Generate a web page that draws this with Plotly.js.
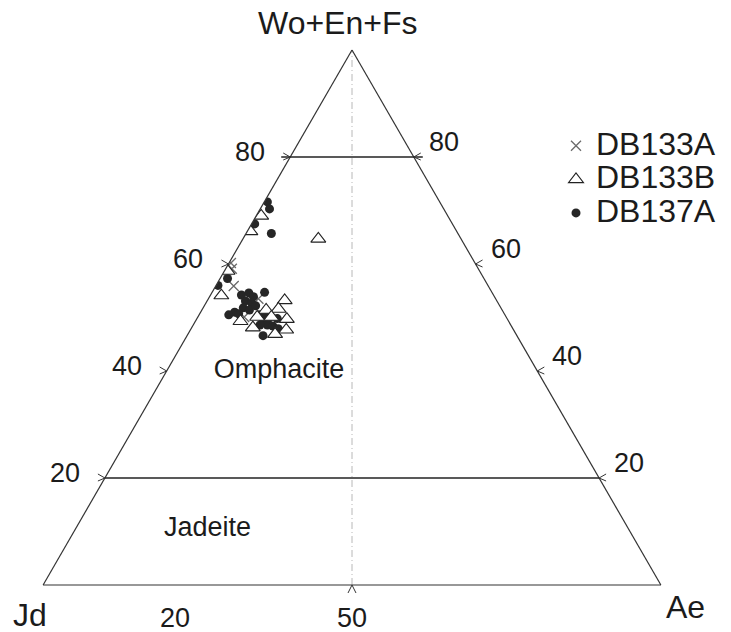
<!DOCTYPE html>
<html>
<head>
<meta charset="utf-8">
<script src="https://cdn.plot.ly/plotly-3.0.1.min.js"></script>
<style>
  html, body { margin: 0; padding: 0; background: #ffffff; }
  #chart { width: 731px; height: 632px; }
</style>
</head>
<body>
<div id="chart"></div>
<script>
// Clinopyroxene compositions, mol %: Quad (Wo+En+Fs), Jd (jadeite), Ae (aegirine)
const db133aQuad = [60.2, 59.1, 55.9, 53.5, 50.1];
const db133aJd   = [39.5, 39.9, 41.2, 38.4, 42.4];
const db133aAe   = [0.3, 1.0, 2.9, 8.1, 7.5];

const db133bQuad = [69.0, 66.1, 64.7, 58.7, 54.1, 53.2, 51.4, 51.6, 50.1, 50.1, 49.7, 49.3, 48.1, 47.7, 46.9];
const db133bJd   = [30.2, 33.4, 23.1, 40.8, 44.1, 34.3, 38.2, 36.1, 38.0, 40.3, 35.7, 43.4, 42.0, 36.8, 39.0];
const db133bAe   = [0.8, 0.5, 12.2, 0.5, 1.8, 12.5, 10.4, 12.3, 11.9, 9.6, 14.6, 7.3, 9.9, 15.5, 14.1];

const db137aQuad = [71.6, 70.3, 67.5, 65.7, 57.3, 56.0, 54.7, 54.2, 54.6, 53.9, 53.1, 52.7, 51.8, 51.4,
                    52.2, 51.0, 50.5, 50.7, 50.5, 51.0, 49.5, 49.9, 48.6, 48.4, 48.6, 46.6, 49.8, 47.9];
const db137aJd   = [27.9, 28.2, 32.0, 30.2, 41.5, 43.7, 36.8, 40.8, 39.4, 39.0, 40.7, 39.9, 41.7, 40.9,
                    39.5, 43.5, 44.7, 43.0, 39.8, 38.5, 39.6, 38.5, 39.4, 38.6, 40.6, 41.1, 37.2, 38.0];
const db137aAe   = [0.5, 1.5, 0.5, 4.1, 1.2, 0.3, 8.5, 5.0, 6.0, 7.1, 6.2, 7.4, 6.5, 7.7,
                    8.3, 5.5, 4.8, 6.3, 9.7, 10.5, 10.9, 11.6, 12.0, 13.0, 10.8, 12.3, 13.0, 14.1];

const seriesNames = ['DB133A', 'DB133B', 'DB137A'];

// Axis annotation values
const quadTicks = [20, 40, 60, 80];          // Wo+En+Fs ticks on both side edges
const baseTickLabels = ['20', '50'];         // labels under the Jd-Ae edge
const baseTickAe = [20, 50];
const baseTickMarks = [50];                  // Ae value of the tick mark on the base
const fieldBoundaries = [80, 20];            // Quad = 80 and Quad = 20 lines
const splitAe = 50;                          // Jd = Ae dividing line

// Field names and where they sit (Quad, Jd, Ae)
const fieldNames = ['Omphacite', 'Jadeite'];
const fieldQuad  = [40.0, 10.4];
const fieldJd    = [41.8, 68.2];
const fieldAe    = [18.2, 21.4];

const vertexNames = ['Wo+En+Fs', 'Jd', 'Ae'];

// ---------------------------------------------------------------
const FONT = 'Liberation Sans, Arial, Helvetica, sans-serif';
const INK = '#1b1b1b';
const FIG_W = 731, FIG_H = 632;

// Plot area; the ternary fills its height and is centred across it
const M = { l: 43, r: 70, t: 50, b: 47 };
const PW = FIG_W - M.l - M.r;
const PH = FIG_H - M.t - M.b;
const H = PH;                                  // triangle height, px
const W = H * 2 / Math.sqrt(3);                // triangle side, px
const X0 = M.l + (PW - W) / 2;                 // Jd corner, px
const YB = M.t + PH;                           // base line, px

// ternary composition -> page pixels
function toPx(a, b, c) {
  const s = a + b + c;
  return [X0 + W * (c + a / 2) / s, YB - H * a / s];
}
// page pixels -> paper fractions
function toPaper(p) {
  return [(p[0] - M.l) / PW, (YB - p[1]) / PH];
}
function at(a, b, c, dx, dy) {
  const p = toPx(a, b, c);
  return toPaper([p[0] + (dx || 0), p[1] + (dy || 0)]);
}
function pathOf(pts) {
  return pts.map((p, i) => (i ? 'L' : 'M') + p[0].toFixed(5) + ',' + p[1].toFixed(5)).join(' ');
}

const shapes = [];

// Jd = Ae dividing line, apex to base midpoint
shapes.push({
  type: 'path', xref: 'paper', yref: 'paper', layer: 'below',
  path: pathOf([at(0, 100 - splitAe, splitAe), at(100, 0, 0)]),
  line: { color: '#b8b8b8', width: 1, dash: '7px,3px,1px,3px' }
});

// Field boundaries (the upper one runs slightly past both edges)
fieldBoundaries.forEach(q => {
  const ext = q >= 50 ? 9 : 0;
  shapes.push({
    type: 'path', xref: 'paper', yref: 'paper',
    path: pathOf([at(q, 100 - q, 0, -ext, 0), at(q, 0, 100 - q, ext, 0)]),
    line: { color: '#222', width: 1.3 }
  });
});

// Chevron tick marks
const chevrons = [];
quadTicks.forEach(q => {
  chevrons.push([at(q, 100 - q, 0, -7, -4), at(q, 100 - q, 0), at(q, 100 - q, 0, -7, 3)]);
  chevrons.push([at(q, 0, 100 - q, 7, -4), at(q, 0, 100 - q), at(q, 0, 100 - q, 7, 3)]);
});
baseTickMarks.forEach(ae => {
  chevrons.push([at(0, 100 - ae, ae, -4, 8), at(0, 100 - ae, ae), at(0, 100 - ae, ae, 4, 8)]);
});
chevrons.forEach(pts => shapes.push({
  type: 'path', xref: 'paper', yref: 'paper', path: pathOf(pts),
  line: { color: '#333', width: 1 }
}));

// Labels
const annotations = [];
function label(pos, text, size) {
  annotations.push({
    xref: 'paper', yref: 'paper', x: pos[0], y: pos[1], text: text,
    showarrow: false, xanchor: 'center', yanchor: 'middle',
    font: { family: FONT, size: size, color: INK }
  });
}
quadTicks.forEach(q => label(at(q, 100 - q, 0, -40, -5), String(q), 27));
quadTicks.forEach(q => label(at(q, 0, 100 - q, 30, -15), String(q), 27));
baseTickAe.forEach((ae, i) => label(at(0, 100 - ae, ae, ae < 50 ? 8 : 0, 33), baseTickLabels[i], 27));
label(at(100, 0, 0, -15, -27), vertexNames[0], 32);
label(at(0, 100, 0, -13, 30), vertexNames[1], 32);
label(at(0, 0, 100, 25, 22), vertexNames[2], 32);

// Data series
const traces = [];
traces.push({
  type: 'scatterternary', mode: 'markers', name: seriesNames[0], legendrank: 1,
  a: db133aQuad, b: db133aJd, c: db133aAe,
  marker: { symbol: 'x-thin-open', size: 10, color: '#6a6a6a', line: { color: '#6a6a6a', width: 1.3 } },
  hoverinfo: 'skip'
});
traces.push({
  type: 'scatterternary', mode: 'markers', name: seriesNames[2], legendrank: 3,
  a: db137aQuad, b: db137aJd, c: db137aAe,
  marker: { symbol: 'circle', size: 9, color: '#262626', line: { width: 0 } },
  hoverinfo: 'skip'
});
traces.push({
  type: 'scatterternary', mode: 'markers', name: seriesNames[1], legendrank: 2,
  a: db133bQuad, b: db133bJd, c: db133bAe,
  marker: { symbol: 'triangle-up', size: 13, color: '#ffffff', line: { color: '#222', width: 1.1 } },
  hoverinfo: 'skip'
});

// Field names
traces.push({
  type: 'scatterternary', mode: 'text',
  a: fieldQuad, b: fieldJd, c: fieldAe, text: fieldNames,
  textposition: 'middle center',
  textfont: { family: FONT, size: 27, color: INK },
  hoverinfo: 'skip', showlegend: false
});

// Legend glyphs larger than the font used for row spacing
traces.forEach(t => {
  if (t.name) t.name = '<span style="font-size:32px">' + t.name + '</span>';
});

const plainAxis = {
  showticklabels: false, ticks: '', showgrid: false,
  showline: true, linecolor: '#333', linewidth: 1.2,
  title: { text: '' }
};

const layout = {
  width: FIG_W, height: FIG_H,
  margin: Object.assign({ autoexpand: false }, M),
  paper_bgcolor: '#ffffff',
  showlegend: true,
  legend: {
    x: (556 - M.l) / PW, y: 1 - (124 - M.t) / PH,
    xanchor: 'left', yanchor: 'top',
    bgcolor: 'rgba(0,0,0,0)', borderwidth: 0,
    font: { family: FONT, size: 23.5, color: INK }
  },
  ternary: {
    sum: 100,
    bgcolor: 'rgba(0,0,0,0)',
    domain: { x: [0, 1], y: [0, 1] },
    aaxis: Object.assign({}, plainAxis),
    baxis: Object.assign({}, plainAxis),
    caxis: Object.assign({}, plainAxis)
  },
  shapes: shapes,
  annotations: annotations
};

Plotly.newPlot('chart', traces, layout, { staticPlot: true, displayModeBar: false });
</script>
</body>
</html>
